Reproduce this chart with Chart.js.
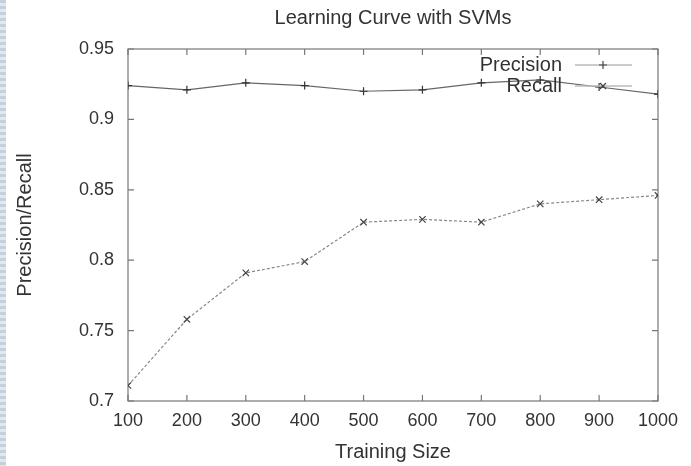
<!DOCTYPE html>
<html>
<head>
<meta charset="utf-8">
<title>Learning Curve with SVMs</title>
<script src="https://cdn.jsdelivr.net/npm/chart.js@4.4.0/dist/chart.umd.min.js"></script>
<style>
  html, body { margin: 0; padding: 0; background: #fff; }
  #wrap { position: relative; width: 691px; height: 466px; }
  #strip {
    position: absolute; left: 0; top: 0; width: 6px; height: 466px;
    background: repeating-linear-gradient(to bottom, #c6d0dc 0 3px, #e3e8ef 3px 6px);
  }
  canvas { position: relative; }
</style>
</head>
<body>
<div id="wrap">
  <div id="strip"></div>
  <canvas id="chart" width="691" height="466"></canvas>
</div>
<script>
// values
const trainingSizes = [100, 200, 300, 400, 500, 600, 700, 800, 900, 1000];
const precision = [0.924, 0.921, 0.926, 0.924, 0.920, 0.921, 0.926, 0.928, 0.923, 0.918];
const recall = [0.711, 0.758, 0.791, 0.799, 0.827, 0.829, 0.827, 0.840, 0.843, 0.846];

const xTicks = [100, 200, 300, 400, 500, 600, 700, 800, 900, 1000];
const yTicks = [0.7, 0.75, 0.8, 0.85, 0.9, 0.95];

const FONT = '"Liberation Sans", Arial, Helvetica, sans-serif';
const TEXT = '#333';

const toPoints = (ys) => trainingSizes.map((x, i) => ({ x: x, y: ys[i] }));

// gnuplot style box with ticks pointing inwards (mirrored)
const framePlugin = {
    id: 'frame',
    beforeDatasetsDraw(chart) {
        const { ctx, chartArea: a, scales: { x, y } } = chart;
        ctx.save();
        ctx.strokeStyle = '#777';
        ctx.lineWidth = 1.2;
        ctx.strokeRect(a.left, a.top, a.width, a.height);
        ctx.beginPath();
        x.ticks.forEach(t => {
            const px = x.getPixelForValue(t.value);
            ctx.moveTo(px, a.bottom); ctx.lineTo(px, a.bottom - 6);
            ctx.moveTo(px, a.top); ctx.lineTo(px, a.top + 6);
        });
        y.ticks.forEach(t => {
            const py = y.getPixelForValue(t.value);
            ctx.moveTo(a.left, py); ctx.lineTo(a.left + 6, py);
            ctx.moveTo(a.right, py); ctx.lineTo(a.right - 6, py);
        });
        ctx.stroke();
        ctx.restore();
    }
};

// key in the top right corner: label, then line sample with marker
const keyPlugin = {
    id: 'key',
    afterDatasetsDraw(chart) {
        const { ctx, chartArea: a } = chart;
        ctx.save();
        ctx.font = '20px ' + FONT;
        ctx.textAlign = 'right';
        ctx.textBaseline = 'middle';
        chart.data.datasets.forEach((ds, i) => {
            const yy = a.top + 16 + i * 21;
            ctx.fillStyle = TEXT;
            ctx.fillText(ds.label, a.right - 96, yy);

            ctx.strokeStyle = '#bbb';
            ctx.lineWidth = 1.5;
            ctx.beginPath();
            ctx.moveTo(a.right - 83, yy);
            ctx.lineTo(a.right - 26, yy);
            ctx.stroke();

            const mx = a.right - 55, r = 4;
            ctx.strokeStyle = '#444';
            ctx.lineWidth = 1.2;
            ctx.beginPath();
            if (ds.pointStyle === 'cross') {
                ctx.moveTo(mx - r, yy); ctx.lineTo(mx + r, yy);
                ctx.moveTo(mx, yy - r); ctx.lineTo(mx, yy + r);
            } else {
                const d = r * 0.75;
                ctx.moveTo(mx - d, yy - d); ctx.lineTo(mx + d, yy + d);
                ctx.moveTo(mx - d, yy + d); ctx.lineTo(mx + d, yy - d);
            }
            ctx.stroke();
        });
        ctx.restore();
    }
};

new Chart(document.getElementById('chart'), {
    type: 'line',
    data: {
        datasets: [{
            label: 'Precision',
            data: toPoints(precision),
            borderColor: '#666',
            borderWidth: 1.2,
            pointStyle: 'cross',
            pointRadius: 4,
            pointBorderColor: '#333',
            pointBorderWidth: 1.2,
            tension: 0,
            fill: false
        }, {
            label: 'Recall',
            data: toPoints(recall),
            borderColor: '#888',
            borderWidth: 1.2,
            borderDash: [3, 2],
            pointStyle: 'crossRot',
            pointRadius: 4.5,
            pointBorderColor: '#444',
            pointBorderWidth: 1.2,
            tension: 0,
            fill: false
        }]
    },
    options: {
        responsive: false,
        animation: false,
        devicePixelRatio: 1,
        layout: { padding: { left: 0, right: 33, top: 0, bottom: 0 } },
        plugins: {
            legend: { display: false },
            tooltip: { enabled: false },
            title: {
                display: true,
                text: 'Learning Curve with SVMs',
                fullSize: false,
                color: TEXT,
                font: { family: FONT, size: 20, weight: 'normal' },
                padding: { top: 6, bottom: 19 }
            }
        },
        scales: {
            x: {
                type: 'linear',
                min: 100,
                max: 1000,
                afterBuildTicks: (scale) => { scale.ticks = xTicks.map(v => ({ value: v })); },
                afterFit: (scale) => { scale.height = 65; },
                grid: { display: false, drawTicks: false },
                border: { display: false },
                ticks: {
                    color: TEXT,
                    padding: 9,
                    maxRotation: 0,
                    font: { family: FONT, size: 18 },
                    callback: (v) => String(v)
                },
                title: {
                    display: true,
                    text: 'Training Size',
                    color: TEXT,
                    font: { family: FONT, size: 20 },
                    padding: { top: 0, bottom: 2 }
                }
            },
            y: {
                type: 'linear',
                min: 0.7,
                max: 0.95,
                afterBuildTicks: (scale) => { scale.ticks = yTicks.map(v => ({ value: v })); },
                afterFit: (scale) => { scale.width = 128; },
                grid: { display: false, drawTicks: false },
                border: { display: false },
                ticks: {
                    color: TEXT,
                    padding: 14,
                    font: { family: FONT, size: 18 },
                    callback: (v) => String(v)
                },
                title: {
                    display: true,
                    text: 'Precision/Recall',
                    color: TEXT,
                    font: { family: FONT, size: 20 },
                    padding: { top: 13, bottom: 0 }
                }
            }
        }
    },
    plugins: [framePlugin, keyPlugin]
});
</script>
</body>
</html>
